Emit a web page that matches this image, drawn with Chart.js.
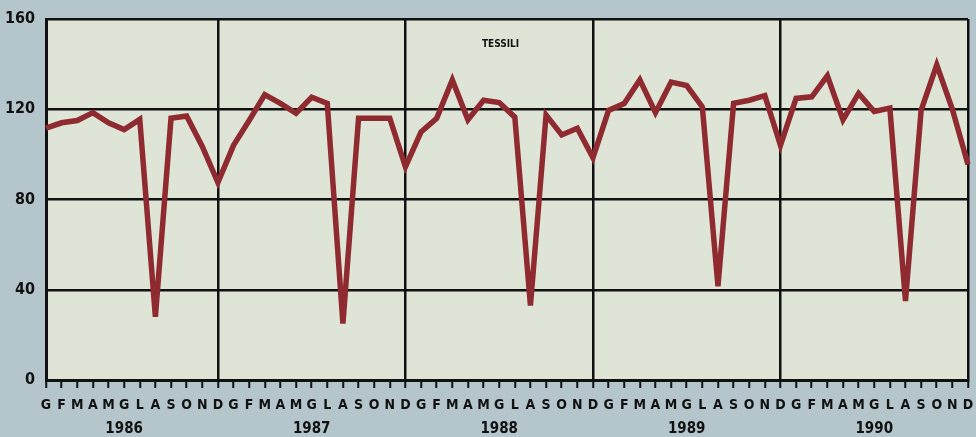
<!DOCTYPE html>
<html>
<head>
<meta charset="utf-8">
<script src="https://cdn.jsdelivr.net/npm/chart.js@4/dist/chart.umd.min.js"></script>
<style>
  html, body { margin: 0; padding: 0; background: #b4c6cc; }
  #wrap { width: 976px; height: 437px; position: relative; }
</style>
</head>
<body>
<div id="wrap"><canvas id="c" width="976" height="437"></canvas></div>
<script>
// ---- data ----
const monthLetters = ['G','F','M','A','M','G','L','A','S','O','N','D'];
const years = ['1986','1987','1988','1989','1990'];
const yTicks = [0, 40, 80, 120, 160];
const title = 'TESSILI';

const v1986 = [111.6, 114, 115, 118.5, 114, 111, 115.5, 28, 116, 117, 103.5, 87.5];
const v1987 = [104, 115, 126.5, 122.6, 118.2, 125.3, 122.6, 25, 116, 116, 116, 94.5];
const v1988 = [110, 116, 133, 115.3, 124, 123, 116.5, 33, 117.5, 108.6, 111.6, 98.5];
const v1989 = [119.5, 122.5, 133, 118.5, 132, 130.5, 121, 41.5, 122.6, 124, 126, 104];
const v1990 = [124.8, 125.5, 134.8, 115.3, 127, 119, 120.5, 35, 119.5, 139.7, 120, 95.5];

const seriesByYear = [v1986, v1987, v1988, v1989, v1990];
const labels = [];
const values = [];
years.forEach((y, yi) => {
  monthLetters.forEach((m, mi) => {
    labels.push(m);
    values.push(seriesByYear[yi][mi]);
  });
});

const NARROW = '"Liberation Sans Narrow", "DejaVu Sans Condensed", "Arial Narrow", sans-serif';

const bgPlugin = {
  id: 'bg',
  beforeDraw(chart) {
    const {ctx, chartArea: a} = chart;
    ctx.save();
    ctx.fillStyle = '#b4c6cc';
    ctx.fillRect(0, 0, chart.width, chart.height);
    ctx.fillStyle = '#dee5d6';
    ctx.fillRect(a.left, a.top, a.right - a.left, a.bottom - a.top);
    ctx.restore();
  },
  afterDraw(chart) {
    const {ctx, chartArea: a} = chart;
    const xs = chart.scales.x;
    ctx.save();
    ctx.fillStyle = '#111';
    ctx.textAlign = 'center';
    ctx.textBaseline = 'middle';
    ctx.font = 'bold 15px ' + NARROW;
    years.forEach((y, yi) => {
      const px = xs.getPixelForValue(yi * 12 + 5);
      ctx.fillText(y, px, 429);
    });
    ctx.font = 'bold 10px ' + NARROW;
    ctx.fillText(title, a.left + (a.right - a.left) * 0.493, 44);
    ctx.restore();
  }
};

new Chart(document.getElementById('c'), {
  type: 'line',
  data: {
    labels: labels,
    datasets: [{
      data: values,
      borderColor: '#8f2a30',
      borderWidth: 5.5,
      borderJoinStyle: 'miter',
      pointRadius: 0,
      tension: 0,
      fill: false
    }]
  },
  options: {
    responsive: false,
    animation: false,
    devicePixelRatio: 1,
    layout: { padding: { top: 19, right: 8, left: 0, bottom: 0 } },
    plugins: { legend: { display: false }, tooltip: { enabled: false } },
    scales: {
      x: {
        type: 'category',
        offset: false,
        afterFit(s) { s.height = 57; s.paddingLeft = 0; s.paddingRight = 0; },
        border: { display: true, color: '#111', width: 3 },
        grid: {
          drawTicks: true,
          tickLength: 8,
          tickColor: '#111',
          tickWidth: 2,
          lineWidth: 2.5,
          color(ctx) {
            const i = ctx.index;
            return (i % 12 === 11 || i === 0) ? '#111' : 'rgba(0,0,0,0)';
          }
        },
        ticks: {
          autoSkip: false,
          maxRotation: 0,
          minRotation: 0,
          padding: 9,
          color: '#111',
          font: { family: NARROW, size: 14, weight: 'bold' }
        }
      },
      y: {
        min: 0,
        max: 160,
        afterFit(s) { s.width = 46; s.paddingTop = 0; s.paddingBottom = 0; },
        afterBuildTicks(s) { s.ticks = yTicks.map(v => ({ value: v })); },
        border: { display: true, color: '#111', width: 3 },
        grid: { drawTicks: false, color: '#111', lineWidth: 2.5 },
        ticks: {
          padding: 11,
          color: '#111',
          font: { family: NARROW, size: 16, weight: 'bold' }
        }
      }
    }
  },
  plugins: [bgPlugin]
});
</script>
</body>
</html>
